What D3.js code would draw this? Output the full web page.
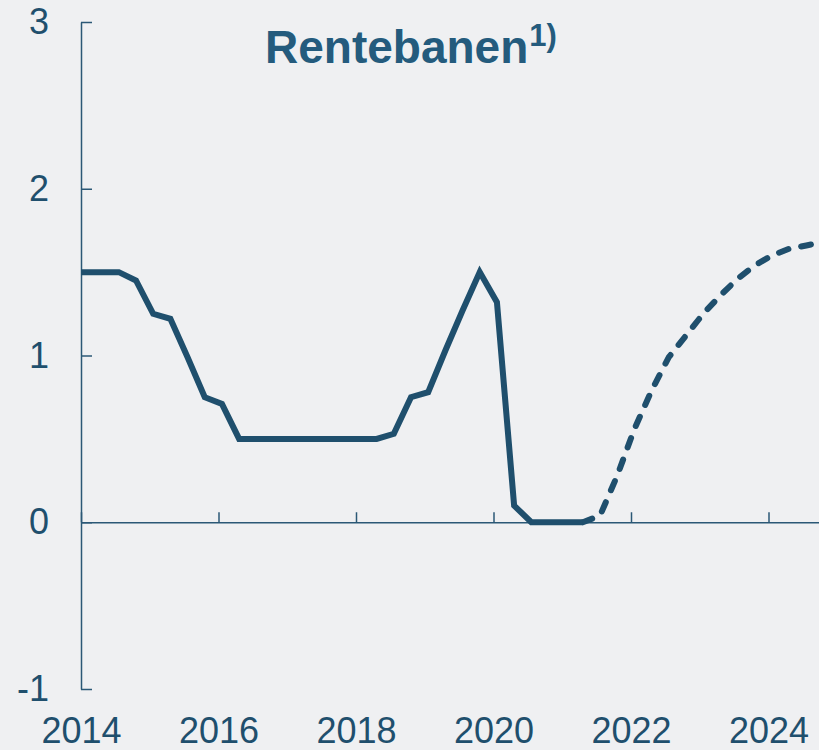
<!DOCTYPE html>
<html><head><meta charset="utf-8">
<script src="https://cdn.jsdelivr.net/npm/d3@7"></script>
<style>
html,body{margin:0;padding:0;background:#eff0f2;overflow:hidden;}
svg{display:block;}
</style></head>
<body>
<script>
// Historical policy-rate path (decimal year, percent)
const histYears = [2014.00,2014.30,2014.55,2014.80,2015.05,2015.30,2015.55,2015.80,2016.05,2016.30,2016.55,2016.80,2017.05,2017.30,2017.55,2017.80,2018.05,2018.30,2018.55,2018.80,2019.05,2019.30,2019.55,2019.80,2020.05,2020.30,2020.55,2020.80,2021.05,2021.30];
const histValues = [1.50,1.50,1.50,1.45,1.25,1.22,0.99,0.75,0.71,0.50,0.50,0.50,0.50,0.50,0.50,0.50,0.50,0.50,0.53,0.75,0.78,1.03,1.27,1.50,1.32,0.10,0.00,0.00,0.00,0.00];
// Forecast path (dashed)
const fcYears = [2021.30,2021.55,2021.80,2022.05,2022.30,2022.55,2022.80,2023.05,2023.30,2023.55,2023.80,2024.05,2024.30,2024.55,2024.80];
const fcValues = [0.00,0.04,0.28,0.56,0.79,0.99,1.12,1.25,1.36,1.46,1.54,1.60,1.64,1.66,1.68];
const xTicks = [2014,2016,2018,2020,2022,2024];
const yTicks = [-1,0,1,2,3];
const titleText = "Rentebanen";
const titleNote = "1)";

const W = 819, H = 750;
const ink = "#1f4f6d", axisCol = "#2b5876", titleCol = "#245b7d";
const svg = d3.select("body").append("svg").attr("width", W).attr("height", H);
svg.append("rect").attr("width", W).attr("height", H).attr("fill", "#eff0f2");

const x = d3.scaleLinear().domain([2014, 2026]).range([81, 81 + 12 * 68.75]);
const y = d3.scaleLinear().domain([-1, 3]).range([689, 22]);

const font = "'Liberation Sans', Arial, sans-serif";

// X axis at zero
const gx = svg.append("g").attr("transform", `translate(0,${y(0)})`)
  .call(d3.axisBottom(x).tickValues(xTicks).tickFormat(d => String(d))
    .tickSize(-10).tickSizeOuter(0).tickPadding(195));
gx.select(".domain").attr("stroke", axisCol).attr("stroke-width", 1.5);
gx.selectAll(".tick line").attr("stroke", axisCol).attr("stroke-width", 1.5);
gx.selectAll(".tick text").attr("fill", ink).style("font-family", font).style("font-size", "36px");

// Y axis
const gy = svg.append("g").attr("transform", `translate(${x(2014)},0)`)
  .call(d3.axisLeft(y).tickValues(yTicks).tickFormat(d => String(d))
    .tickSize(-11).tickSizeOuter(0).tickPadding(32));
gy.select(".domain").attr("stroke", axisCol).attr("stroke-width", 1.5);
gy.selectAll(".tick line").attr("stroke", axisCol).attr("stroke-width", 1.5);
gy.selectAll(".tick text").attr("fill", ink).style("font-family", font).style("font-size", "36px");

// Lines
const hist = histYears.map((d, i) => [d, histValues[i]]);
const fc = fcYears.map((d, i) => [d, fcValues[i]]);
const line = d3.line().x(d => x(d[0])).y(d => y(d[1]));

svg.append("path").datum(fc).attr("d", line)
  .attr("fill", "none").attr("stroke", ink).attr("stroke-width", 6)
  .attr("stroke-linecap", "round").attr("stroke-dasharray", "10,13");
svg.append("path").datum(hist).attr("d", line)
  .attr("fill", "none").attr("stroke", ink).attr("stroke-width", 6)
  .attr("stroke-linejoin", "miter");

// Title
const t = svg.append("text").attr("x", 265).attr("y", 63)
  .attr("fill", titleCol).style("font-family", font).style("font-weight", "bold")
  .style("font-size", "46px").text(titleText);
t.append("tspan").attr("dx", 1).attr("dy", -17).style("font-size", "31px").text(titleNote);
</script>
</body></html>
